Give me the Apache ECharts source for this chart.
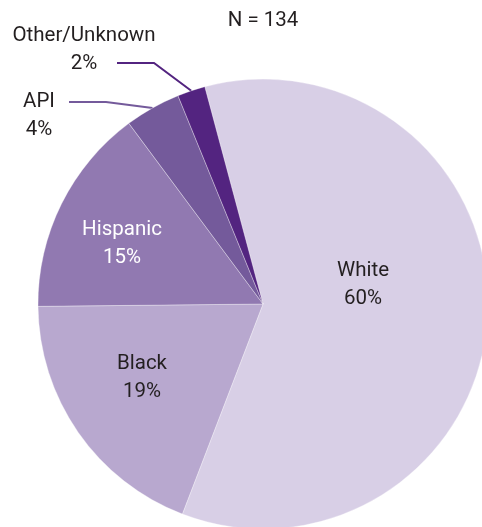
<!DOCTYPE html>
<html>
<head>
<meta charset="utf-8">
<script src="https://cdn.jsdelivr.net/npm/echarts@6/dist/echarts.min.js"></script>
<style>
html,body{margin:0;padding:0;background:#fff;}
#chart{width:482px;height:527px;}
</style>
</head>
<body>
<div id="chart"></div>
<script>
// ---- data ----
var categories = ['White', 'Black', 'Hispanic', 'API', 'Other/Unknown'];
var percents = [60, 19, 15, 4, 2];
var sampleNote = 'N = 134';

// ---- styles ----
var colors = ['#d8cfe6', '#b8a8cf', '#9179b1', '#745a9b', '#532480'];
var labelColors = ['#231f20', '#231f20', '#ffffff', '#231f20', '#231f20'];
var insideFlags = [true, true, true, false, false];
var FONT = 'Roboto, sans-serif';
var FS = 20.5;

// label anchor positions (label block centres) and guide-line bends
var labelPos = [[363, 285], [142, 378], [122, 244], [39, 116], [84, 50]];
var guide = {
  3: [[106, 102], [69, 102]],
  4: [[154, 63], [117, 63]]
};

var chart = echarts.init(document.getElementById('chart'), null, {renderer: 'canvas'});

var data = categories.map(function (name, i) {
  return {
    name: name,
    value: percents[i],
    itemStyle: {color: colors[i]},
    label: {
      position: insideFlags[i] ? 'inside' : 'outside',
      color: labelColors[i]
    },
    labelLine: {
      show: !insideFlags[i],
      lineStyle: {color: colors[i], width: 2}
    }
  };
});

chart.setOption({
  animation: false,
  backgroundColor: '#ffffff',
  graphic: [{
    type: 'text',
    x: 263,
    y: 21,
    style: {
      text: sampleNote,
      fill: '#231f20',
      font: FS + 'px ' + FONT,
      align: 'center',
      verticalAlign: 'middle'
    }
  }],
  series: [{
    type: 'pie',
    center: [263, 304],
    radius: 225,
    startAngle: 105,
    clockwise: true,
    avoidLabelOverlap: false,
    itemStyle: {borderColor: 'rgba(255,255,255,0.55)', borderWidth: 0.6},
    emphasis: {disabled: true},
    label: {
      show: true,
      formatter: '{b}\n{c}%',
      fontFamily: FONT,
      fontSize: FS,
      lineHeight: 28,
      align: 'center'
    },
    labelLine: {show: true, length: 20, length2: 20, smooth: false},
    labelLayout: function (params) {
      var i = params.dataIndex;
      var p = labelPos[i];
      var out = {x: p[0], y: p[1], align: 'center', verticalAlign: 'middle'};
      if (guide[i] && params.labelLinePoints) {
        var start = params.labelLinePoints[0];
        out.labelLinePoints = [start, guide[i][0], guide[i][1]];
      }
      return out;
    },
    data: data
  }]
});
</script>
</body>
</html>
